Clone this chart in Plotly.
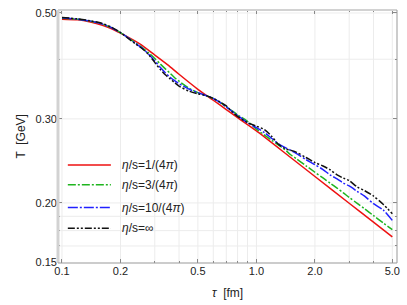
import plotly.graph_objects as go

# ---- data ----
tau_red = [0.1, 0.12, 0.14, 0.16, 0.18, 0.2, 0.25, 0.3, 0.35, 0.4, 0.5, 0.6, 0.7, 0.8, 1.0, 1.5, 2.0, 3.0, 4.0, 5.0]
T_red = [0.4853, 0.4837, 0.4786, 0.4718, 0.4633, 0.4535, 0.4312, 0.4083, 0.3893, 0.3720, 0.3460, 0.3282,
         0.3138, 0.3017, 0.2831, 0.2490, 0.2272, 0.1997, 0.1823, 0.1698]

tau_grid = [0.10, 0.12, 0.14, 0.16, 0.18, 0.20, 0.22, 0.24, 0.26, 0.28, 0.30, 0.32, 0.34, 0.36, 0.38, 0.40,
            0.45, 0.50, 0.55, 0.60, 0.65, 0.70, 0.75, 0.80, 0.90, 1.0, 1.1, 1.2, 1.3, 1.4, 1.5, 1.6, 1.8,
            2.0, 2.2, 2.4, 2.6, 2.8, 3.0, 3.3, 3.6, 4.0, 4.5, 5.0]

T_green = [0.4872, 0.4849, 0.4802, 0.4745, 0.4656, 0.4546, 0.4428, 0.4323, 0.4222, 0.4122, 0.4015, 0.3911,
           0.3819, 0.3738, 0.3659, 0.3598, 0.3480, 0.3405, 0.3357, 0.3310, 0.3248, 0.3179, 0.3118, 0.3059,
           0.2966, 0.2855, 0.2775, 0.2705, 0.2643, 0.2587, 0.2523, 0.2478, 0.2392, 0.2319, 0.2256, 0.2199,
           0.2148, 0.2100, 0.2054, 0.1996, 0.1944, 0.1882, 0.1815, 0.1759]

T_blue = [0.4884, 0.4853, 0.4807, 0.4745, 0.4656, 0.4546, 0.4428, 0.4312, 0.4212, 0.4092, 0.3968, 0.3846,
          0.3746, 0.3667, 0.3607, 0.3556, 0.3463, 0.3405, 0.3357, 0.3310, 0.3248, 0.3179, 0.3111, 0.3052,
          0.2945, 0.2876, 0.2808, 0.2729, 0.2659, 0.2615, 0.2578, 0.2541, 0.2464, 0.2406, 0.2349, 0.2288,
          0.2245, 0.2202, 0.2171, 0.2115, 0.2066, 0.1993, 0.1932, 0.1838]

T_black = [0.4891, 0.4860, 0.4814, 0.4757, 0.4667, 0.4546, 0.4417, 0.4302, 0.4202, 0.4083, 0.3940, 0.3809,
           0.3711, 0.3638, 0.3573, 0.3514, 0.3430, 0.3386, 0.3357, 0.3310, 0.3255, 0.3194, 0.3103, 0.3038,
           0.2945, 0.2896, 0.2849, 0.2755, 0.2653, 0.2600, 0.2578, 0.2555, 0.2490, 0.2430, 0.2390, 0.2345,
           0.2290, 0.2255, 0.2228, 0.2160, 0.2122, 0.2068, 0.1985, 0.1899]

names = ["<i>η</i>/s=1/(4<i>π</i>)", "<i>η</i>/s=3/(4<i>π</i>)", "<i>η</i>/s=10/(4<i>π</i>)", "<i>η</i>/s=∞"]
colors = ["#ee1111", "#1fb51f", "#2020ff", "#111111"]
dashes = ["solid", "8px,2px,2px,2px", "10px,2px,2px,2px", "7px,2px,2px,2px,2px,2px"]

x_major = [0.1, 0.2, 0.5, 1.0, 2.0, 5.0]
x_major_text = ["0.1", "0.2", "0.5", "1.0", "2.0", "5.0"]
x_minor = [0.3, 0.4, 0.6, 0.7, 0.8, 0.9, 3.0, 4.0]
y_major = [0.5, 0.3, 0.2, 0.15]
y_major_text = ["0.50", "0.30", "0.20", "0.15"]
y_minor = [0.4, 0.1875, 0.175, 0.1625]

FONT = "Liberation Sans, Arial, sans-serif"

fig = go.Figure()
series = [(tau_red, T_red), (tau_grid, T_green), (tau_grid, T_blue), (tau_grid, T_black)]
for (xs, ys), c, d, n in zip(series, colors, dashes, names):
    fig.add_trace(go.Scatter(x=xs, y=ys, mode="lines", name=n,
                             line=dict(color=c, width=1.5, dash=d, shape="spline", smoothing=0.8),
                             showlegend=False, hoverinfo="skip"))

# gridlines (all ticks)
grid_col = "#ececec"
shapes = []
for v in x_major + x_minor:
    shapes.append(dict(type="line", xref="x", yref="paper", x0=v, x1=v, y0=0, y1=1,
                       line=dict(color=grid_col, width=1), layer="below"))
for v in y_major[:-1] + y_minor:
    shapes.append(dict(type="line", xref="paper", yref="y", x0=0, x1=1, y0=v, y1=v,
                       line=dict(color=grid_col, width=1), layer="below"))

# frame
shapes += [
    dict(type="line", xref="paper", yref="paper", x0=0, x1=0, y0=0, y1=1, line=dict(color="#d2d2d2", width=3)),
    dict(type="line", xref="paper", yref="paper", x0=0, x1=1, y0=1, y1=1, line=dict(color="#d2d2d2", width=2)),
    dict(type="line", xref="paper", yref="paper", x0=1, x1=1, y0=0, y1=1, line=dict(color="#999999", width=1)),
    dict(type="line", xref="paper", yref="paper", x0=0, x1=1, y0=0, y1=0, line=dict(color="#999999", width=1)),
]

# manual legend
leg_y = [0.387, 0.309, 0.219, 0.137]
annotations = []
for n, c, d, yy in zip(names, colors, dashes, leg_y):
    shapes.append(dict(type="line", xref="paper", yref="paper", x0=0.029, x1=0.156, y0=yy, y1=yy,
                       line=dict(color=c, width=1.5, dash=d)))
    annotations.append(dict(xref="paper", yref="paper", x=0.182, y=yy, text=n, showarrow=False,
                            xanchor="left", yanchor="middle", font=dict(family=FONT, size=12, color="#222")))

annotations.append(dict(xref="paper", yref="paper", x=0.5, y=-0.117, yanchor="middle", xanchor="center",
                        text="<i>τ</i>  [fm]", showarrow=False, font=dict(family=FONT, size=12, color="#222")))
annotations.append(dict(xref="paper", yref="paper", x=-0.112, y=0.5, xanchor="center", yanchor="middle",
                        text="T  [GeV]", textangle=-90, showarrow=False, font=dict(family=FONT, size=12, color="#222")))

fig.update_layout(
    width=407, height=305,
    margin=dict(l=58, r=9, t=7, b=42),
    paper_bgcolor="white", plot_bgcolor="white",
    shapes=shapes, annotations=annotations,
    font=dict(family=FONT, size=11, color="#222"),
    xaxis=dict(type="log", range=[-1.0205, 0.7231], showgrid=False, zeroline=False, showline=False,
               tickmode="array", tickvals=x_major, ticktext=x_major_text,
               ticks="inside", ticklen=4, tickcolor="#888", mirror="ticks",
               minor=dict(tickmode="array", tickvals=x_minor, ticks="inside", ticklen=2, tickcolor="#888"),
               tickfont=dict(family=FONT, size=11, color="#222")),
    yaxis=dict(type="log", range=[-0.8248, -0.2948], showgrid=False, zeroline=False, showline=False,
               tickmode="array", tickvals=y_major, ticktext=y_major_text,
               ticks="inside", ticklen=4, tickcolor="#888", mirror="ticks",
               minor=dict(tickmode="array", tickvals=y_minor, ticks="inside", ticklen=2, tickcolor="#888"),
               tickfont=dict(family=FONT, size=11, color="#222")),
)

fig.write_html("out.html", config={"displayModeBar": False},
               post_script="document.body.style.margin='0px';document.body.style.overflow='hidden';")
